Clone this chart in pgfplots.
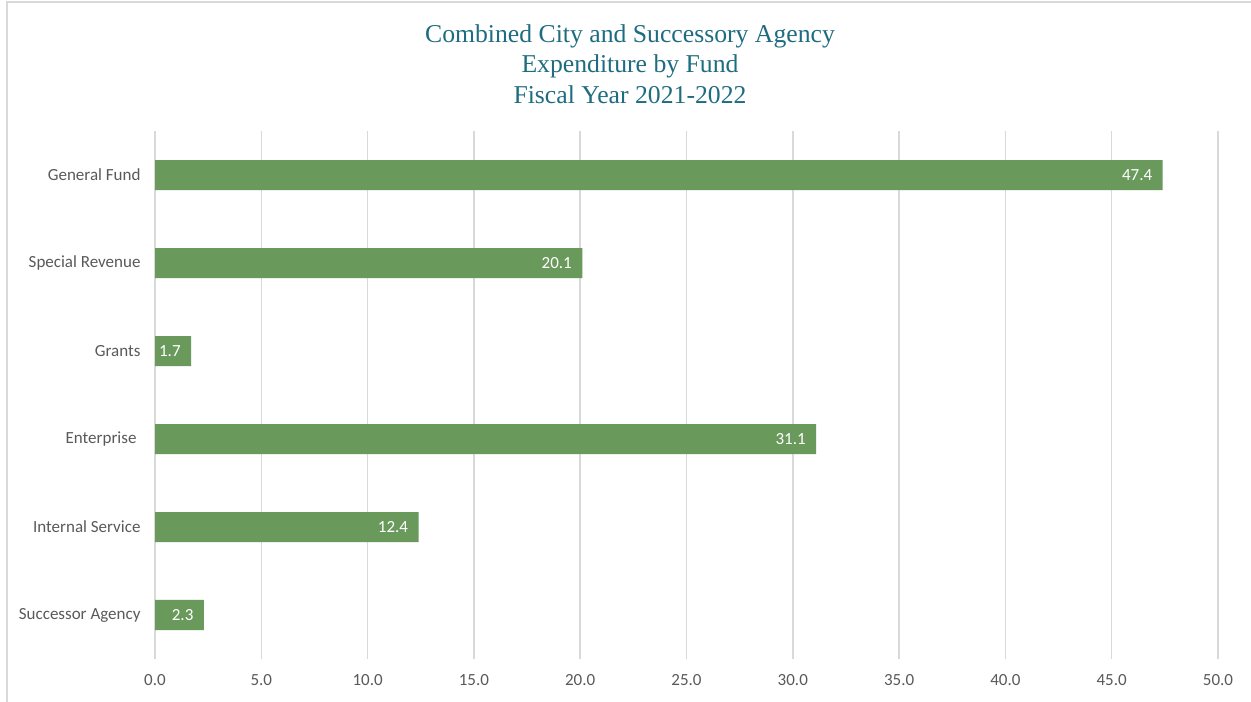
\documentclass[border=0pt]{standalone}
\usepackage{pgfplots}
\pgfplotsset{compat=1.18}
\usepackage{fontspec}
\setmainfont{Carlito}
\newfontfamily\titlefont{Liberation Serif}
\definecolor{barc}{RGB}{106,153,92}
\definecolor{titlec}{RGB}{30,108,128}
\definecolor{gridc}{RGB}{217,217,217}
\definecolor{labc}{RGB}{89,89,89}
\definecolor{borderc}{RGB}{217,217,217}
\begin{document}
\begin{tikzpicture}
\path[use as bounding box] (0,0) rectangle (1251bp,702bp);
\draw[borderc, line width=1.5bp] (7bp,0) -- (7bp,700bp) -- (1251bp,700bp);
\node[titlec, font=\titlefont\fontsize{25.7bp}{30.5bp}\selectfont, align=center] at (630bp,638bp)
  {Combined City and Successory Agency\\Expenditure by Fund\\Fiscal Year 2021-2022};
\begin{axis}[
  at={(155bp,43bp)}, anchor=south west,
  scale only axis,
  width=1063bp, height=528bp,
  xbar, bar width=30bp,
  xmin=0, xmax=50,
  ymin=-0.5, ymax=5.5,
  xtick={0,5,...,50},
  ytick={0,1,2,3,4,5},
  yticklabels={Successor Agency, Internal Service, {Enterprise\hspace*{4bp}}, Grants, Special Revenue, General Fund},
  /pgf/number format/assume math mode=true,
  tick label style={font=\fontsize{17bp}{20bp}\selectfont, text=labc},
  xticklabel style={/pgf/number format/fixed, /pgf/number format/fixed zerofill, /pgf/number format/precision=1, yshift=-12bp},
  yticklabel style={xshift=-11bp},
  major tick length=0pt,
  axis line style={draw=none},
  xmajorgrids, grid style={gridc, line width=1.5bp},
  nodes near coords,
  nodes near coords style={/pgf/number format/fixed, /pgf/number format/fixed zerofill, /pgf/number format/precision=1},
  every node near coord/.append style={anchor=east, xshift=-7bp, text=white, font=\fontsize{17bp}{20bp}\selectfont},
  clip=false,
]
\addplot[fill=barc, draw=none] coordinates {
  (2.3,0) (12.4,1) (31.1,2) (1.7,3) (20.1,4) (47.4,5)
};
\end{axis}
\end{tikzpicture}
\end{document}
